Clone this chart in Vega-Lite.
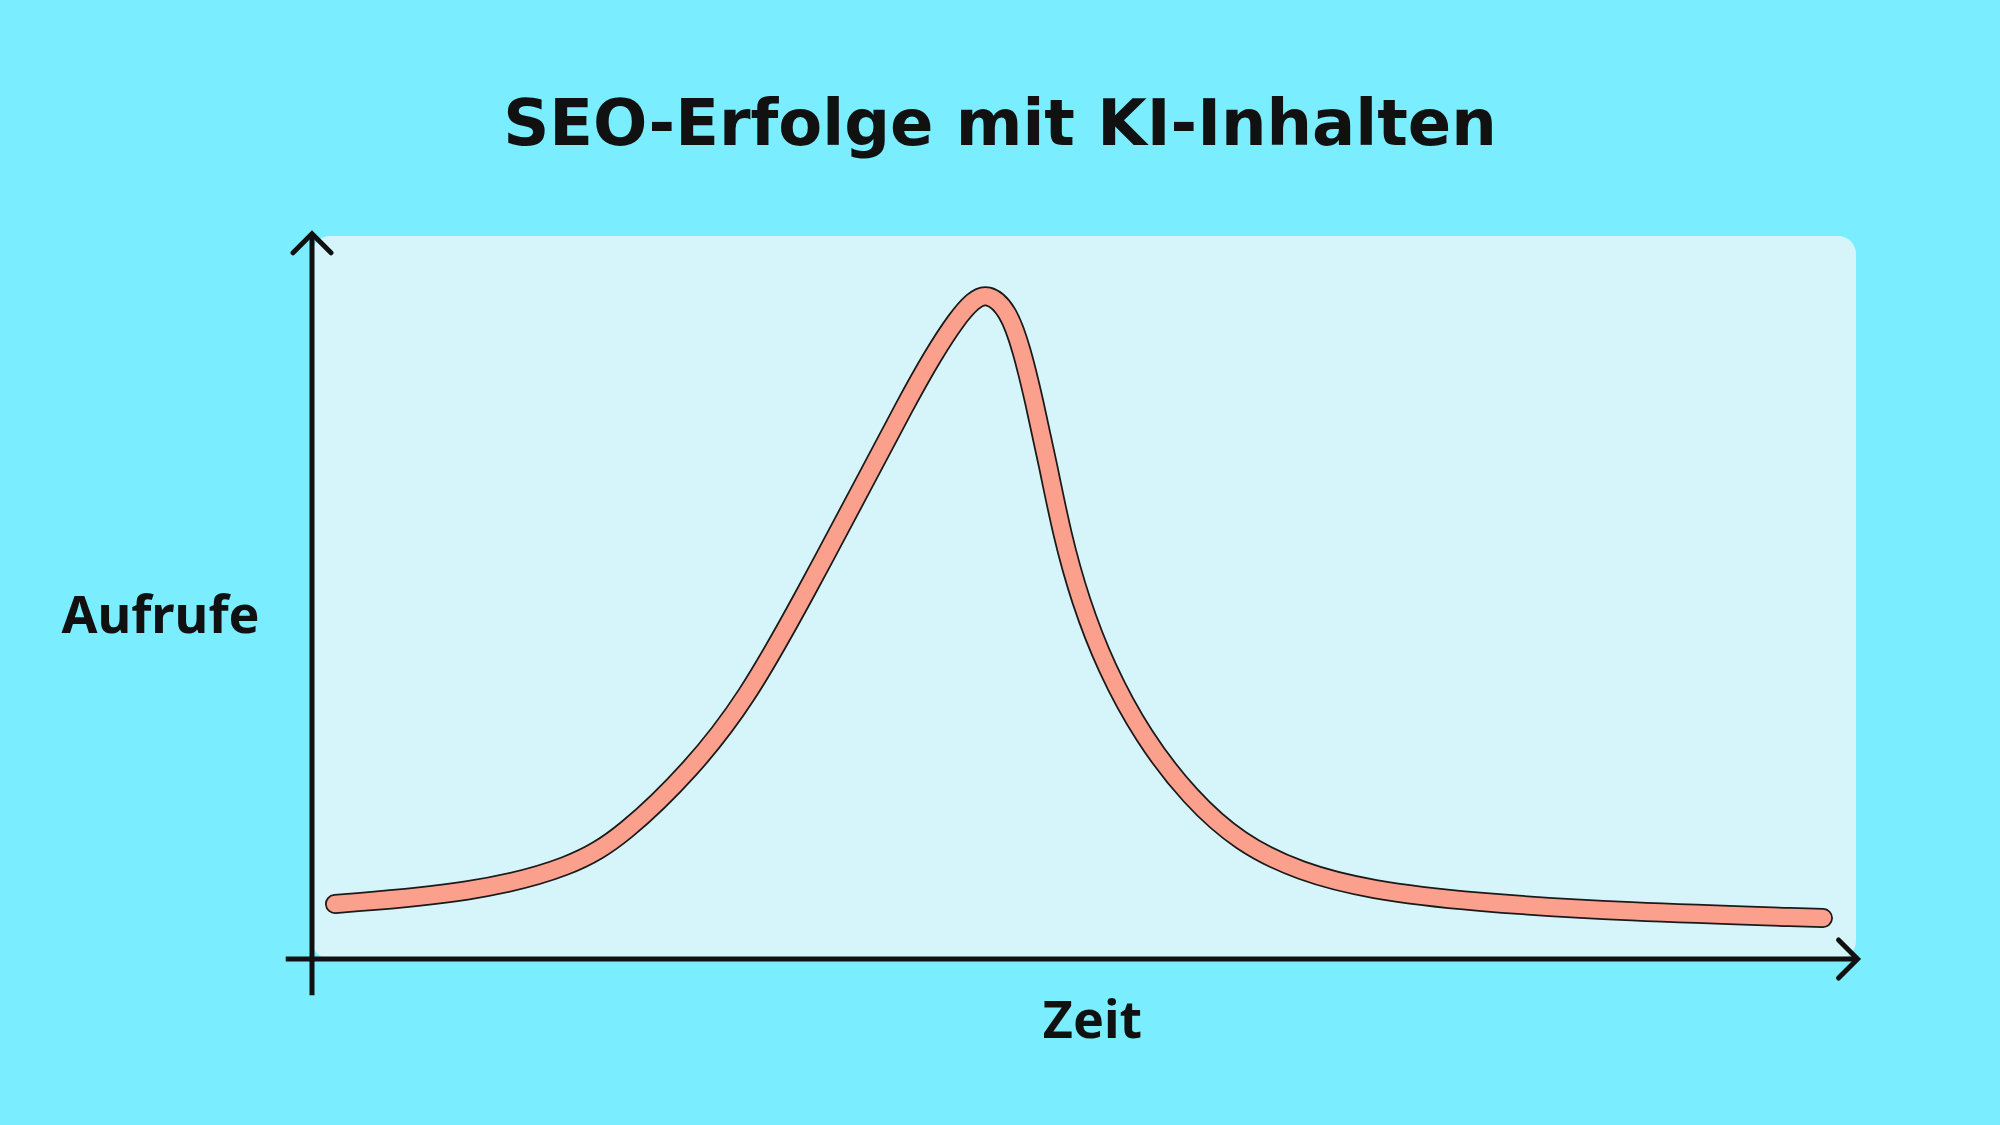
{
  "$schema": "https://vega.github.io/schema/vega-lite/v6.json",
  "width": 1544,
  "height": 723,
  "autosize": {"type": "none"},
  "padding": {"left": 312, "top": 236, "right": 144, "bottom": 166},
  "background": "#7aeefe",
  "title": {
    "text": "SEO-Erfolge mit KI-Inhalten",
    "font": "DejaVu Sans",
    "fontSize": 64,
    "fontWeight": "bold",
    "color": "#111111",
    "anchor": "middle",
    "dx": -84,
    "offset": 66
  },
  "config": {
    "view": {"fill": "#d6f5fa", "stroke": null, "cornerRadius": 18},
    "axis": {
      "domain": false,
      "ticks": false,
      "labels": false,
      "grid": false,
      "titleFont": "Noto Sans",
      "titleFontSize": 52,
      "titleFontWeight": "bold",
      "titleColor": "#111111"
    }
  },
  "datasets": {
    "curve": [
      {"t": 1.49, "v": 7.61},
      {"t": 10.43, "v": 9.13},
      {"t": 16.90, "v": 12.72},
      {"t": 20.21, "v": 17.15},
      {"t": 24.61, "v": 26.28},
      {"t": 28.11, "v": 35.82},
      {"t": 31.74, "v": 49.65},
      {"t": 36.14, "v": 67.36},
      {"t": 38.41, "v": 76.63},
      {"t": 40.22, "v": 83.54},
      {"t": 41.77, "v": 88.60},
      {"t": 42.81, "v": 91.10},
      {"t": 43.72, "v": 92.20},
      {"t": 45.08, "v": 89.90},
      {"t": 45.98, "v": 84.23},
      {"t": 46.76, "v": 77.32},
      {"t": 47.67, "v": 68.33},
      {"t": 48.58, "v": 58.64},
      {"t": 49.74, "v": 49.65},
      {"t": 51.42, "v": 40.25},
      {"t": 53.82, "v": 30.71},
      {"t": 56.87, "v": 22.27},
      {"t": 60.10, "v": 16.04},
      {"t": 63.99, "v": 12.03},
      {"t": 68.52, "v": 9.54},
      {"t": 75.06, "v": 7.88},
      {"t": 84.97, "v": 6.50},
      {"t": 97.86, "v": 5.67}
    ],
    "axes": [
      {"t": 0, "v": -5.0, "t2": 0, "v2": 100.3},
      {"t": -1.7, "v": 0, "t2": 100.1, "v2": 0}
    ],
    "arrows": [
      {"t": 0, "v": 100.3, "dir": "up"},
      {"t": 100.1, "v": 0, "dir": "right"}
    ]
  },
  "layer": [
    {
      "data": {"name": "curve"},
      "mark": {"type": "line", "interpolate": "basis", "stroke": "#1a1a1a", "strokeWidth": 20, "strokeCap": "round", "strokeJoin": "round"},
      "encoding": {
        "x": {"field": "t", "type": "quantitative", "scale": {"domain": [0, 100], "nice": false, "zero": false}, "title": "Zeit", "axis": {"titleX": 780, "titleY": 78, "titleAlign": "center", "titleBaseline": "alphabetic"}},
        "y": {"field": "v", "type": "quantitative", "scale": {"domain": [0, 100], "nice": false, "zero": false}, "title": "Aufrufe", "axis": {"titleAngle": 0, "titleX": -152, "titleY": 380, "titleAlign": "center", "titleBaseline": "middle"}}
      }
    },
    {
      "data": {"name": "curve"},
      "mark": {"type": "line", "interpolate": "basis", "stroke": "#fca08e", "strokeWidth": 16.5, "strokeCap": "round", "strokeJoin": "round"},
      "encoding": {
        "x": {"field": "t", "type": "quantitative"},
        "y": {"field": "v", "type": "quantitative"}
      }
    },
    {
      "data": {"name": "axes"},
      "mark": {"type": "rule", "stroke": "#111111", "strokeWidth": 5},
      "encoding": {
        "x": {"field": "t", "type": "quantitative"},
        "y": {"field": "v", "type": "quantitative"},
        "x2": {"field": "t2"},
        "y2": {"field": "v2"}
      }
    },
    {
      "data": {"name": "arrows"},
      "mark": {"type": "point", "filled": false, "stroke": "#111111", "strokeWidth": 5, "size": 1444, "opacity": 1, "strokeCap": "round", "strokeJoin": "miter"},
      "encoding": {
        "x": {"field": "t", "type": "quantitative"},
        "y": {"field": "v", "type": "quantitative"},
        "shape": {"field": "dir", "type": "nominal", "scale": {"domain": ["up", "right"], "range": ["M-1,1L0,0L1,1", "M-1,-1L0,0L-1,1"]}, "legend": null}
      }
    }
  ]
}
